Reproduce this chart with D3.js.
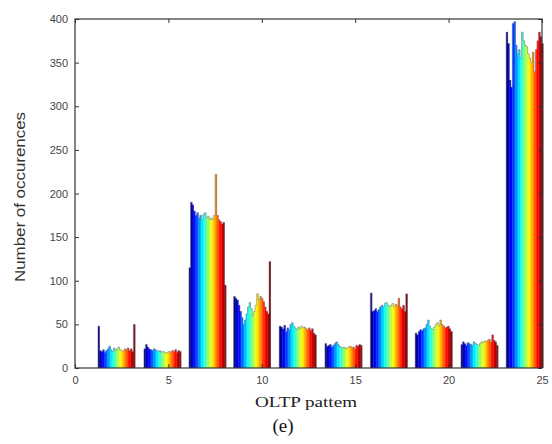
<!DOCTYPE html>
<html>
<head>
<meta charset="utf-8">
<script src="https://cdn.jsdelivr.net/npm/d3@7"></script>
<style>
  body { margin: 0; background: #fff; }
  svg { display: block; }
</style>
</head>
<body>
<div id="chart"></div>
<script>
// x position (pattern axis) of each group's centre
var groupCenters = [2.22, 4.68, 7.09, 9.48, 11.92, 14.37, 16.8, 19.2, 21.65, 24.07];

// occurrences per group, one value per series (blue -> red)
var group1 = [48, 20, 19, 21, 18, 20, 22, 25, 21, 19, 23, 20, 22, 24, 21, 20, 19, 22, 21, 23, 20, 22, 19, 50];
var group2 = [22, 27, 24, 22, 21, 20, 22, 21, 20, 19, 20, 18, 19, 18, 17, 18, 19, 18, 20, 19, 21, 18, 20, 19];
var group3 = [115, 190, 187, 180, 175, 178, 172, 175, 170, 176, 178, 172, 174, 170, 172, 170, 175, 222, 175, 170, 168, 165, 167, 95];
var group4 = [82, 80, 78, 72, 65, 58, 50, 55, 62, 70, 75, 68, 60, 65, 72, 85, 78, 82, 80, 76, 70, 65, 62, 122];
var group5 = [48, 47, 45, 49, 42, 46, 44, 50, 52, 48, 46, 44, 47, 45, 48, 46, 47, 45, 44, 46, 43, 45, 40, 38];
var group6 = [28, 25, 26, 27, 24, 26, 28, 30, 27, 25, 24, 23, 24, 22, 23, 24, 25, 23, 24, 22, 26, 25, 27, 26];
var group7 = [86, 65, 66, 68, 65, 67, 70, 72, 70, 74, 75, 72, 70, 72, 74, 70, 73, 72, 80, 70, 68, 72, 65, 85];
var group8 = [40, 38, 42, 44, 43, 45, 46, 50, 55, 48, 45, 44, 47, 50, 52, 48, 55, 50, 48, 46, 47, 48, 45, 42];
var group9 = [27, 30, 28, 26, 29, 28, 27, 26, 30, 28, 27, 26, 28, 30, 29, 31, 30, 32, 33, 30, 38, 32, 30, 26];
var group10 = [385, 372, 330, 322, 395, 397, 370, 360, 365, 355, 385, 375, 370, 368, 360, 355, 350, 362, 340, 365, 375, 385, 380, 372];

var xTicks = [0, 5, 10, 15, 20, 25];
var yTicks = [0, 50, 100, 150, 200, 250, 300, 350, 400];

var groups = [group1, group2, group3, group4, group5, group6, group7, group8, group9, group10];

var width = 552,
  height = 444,
  plotLeft = 75,
  plotRight = 542,
  plotTop = 19,
  plotBottom = 368,
  groupWidth = 1.98;

var svg = d3
  .select("#chart")
  .append("svg")
  .attr("width", width)
  .attr("height", height);

var x = d3.scaleLinear().domain([0, 25]).range([plotLeft, plotRight]);
var y = d3.scaleLinear().domain([0, 400]).range([plotBottom, plotTop]);

// matlab jet colormap
function jet(t) {
  function c(v) {
    return Math.round(255 * Math.max(0, Math.min(1, v)));
  }
  return d3.rgb(c(1.5 - Math.abs(4 * t - 3)), c(1.5 - Math.abs(4 * t - 2)), c(1.5 - Math.abs(4 * t - 1))) + "";
}

var bars = svg.append("g");

groups.forEach(function(vals, gi) {
  var c = groupCenters[gi];
  var n = vals.length;
  var xb = d3
    .scaleBand()
    .domain(d3.range(n))
    .range([x(c - groupWidth / 2), x(c + groupWidth / 2)])
    .padding(0);

  var g = bars.append("g");
  g.selectAll("rect")
    .data(vals)
    .enter()
    .append("rect")
    .attr("x", function(d, i) { return xb(i); })
    .attr("width", xb.bandwidth() + 0.3)
    .attr("y", function(d) { return y(d); })
    .attr("height", function(d) { return y(0) - y(d); })
    .attr("fill", function(d, i) { return jet(i / (n - 1)); });

  // grey-ish bar edges along the tops
  var pts = [];
  vals.forEach(function(d, i) {
    pts.push([xb(i), y(d)]);
    pts.push([xb(i) + xb.bandwidth(), y(d)]);
  });
  g.append("path")
    .attr("d", "M" + xb(0) + "," + y(0) + "L" + pts.join("L") + "L" + (xb(n - 1) + xb.bandwidth()) + "," + y(0))
    .attr("fill", "none")
    .attr("stroke", "#6a6a80")
    .attr("stroke-opacity", 0.6)
    .attr("stroke-width", 0.8);
});

// axes, ticks pointing inward like matlab
var fontTick = "'Liberation Sans', Arial, sans-serif";

svg
  .append("g")
  .attr("transform", "translate(0," + plotBottom + ")")
  .call(d3.axisBottom(x).tickValues(xTicks).tickSizeInner(-4).tickSizeOuter(0).tickPadding(8));

svg
  .append("g")
  .attr("transform", "translate(0," + plotTop + ")")
  .call(d3.axisTop(x).tickValues(xTicks).tickSizeInner(-4).tickSizeOuter(0).tickFormat(""));

svg
  .append("g")
  .attr("transform", "translate(" + plotLeft + ",0)")
  .call(d3.axisLeft(y).tickValues(yTicks).tickSizeInner(-4).tickSizeOuter(0).tickPadding(7));

svg
  .append("g")
  .attr("transform", "translate(" + plotRight + ",0)")
  .call(d3.axisRight(y).tickValues(yTicks).tickSizeInner(-4).tickSizeOuter(0).tickFormat(""));

svg.selectAll(".domain").remove();
svg.selectAll(".tick line").attr("stroke", "#333");
svg
  .selectAll(".tick text")
  .attr("font-family", fontTick)
  .attr("font-size", "11px")
  .attr("fill", "#444");

// box
svg
  .append("rect")
  .attr("x", plotLeft)
  .attr("y", plotTop)
  .attr("width", plotRight - plotLeft)
  .attr("height", plotBottom - plotTop)
  .attr("fill", "none")
  .attr("stroke", "#333")
  .attr("stroke-width", 1.2);

// axis titles
svg
  .append("text")
  .attr("x", 306)
  .attr("y", 407)
  .attr("text-anchor", "middle")
  .attr("font-family", "'Liberation Serif', 'Times New Roman', serif")
  .attr("font-size", "15px")
  .attr("textLength", 102)
  .attr("lengthAdjust", "spacingAndGlyphs")
  .attr("fill", "#222")
  .text("OLTP pattem");

svg
  .append("text")
  .attr("transform", "translate(25,197) rotate(-90)")
  .attr("text-anchor", "middle")
  .attr("font-family", fontTick)
  .attr("font-size", "15px")
  .attr("textLength", 170)
  .attr("lengthAdjust", "spacingAndGlyphs")
  .attr("fill", "#333")
  .text("Number of occurences");

svg
  .append("text")
  .attr("x", 283)
  .attr("y", 432)
  .attr("text-anchor", "middle")
  .attr("font-family", "'Liberation Serif', 'Times New Roman', serif")
  .attr("font-size", "19px")
  .attr("fill", "#111")
  .text("(e)");
</script>
</body>
</html>
